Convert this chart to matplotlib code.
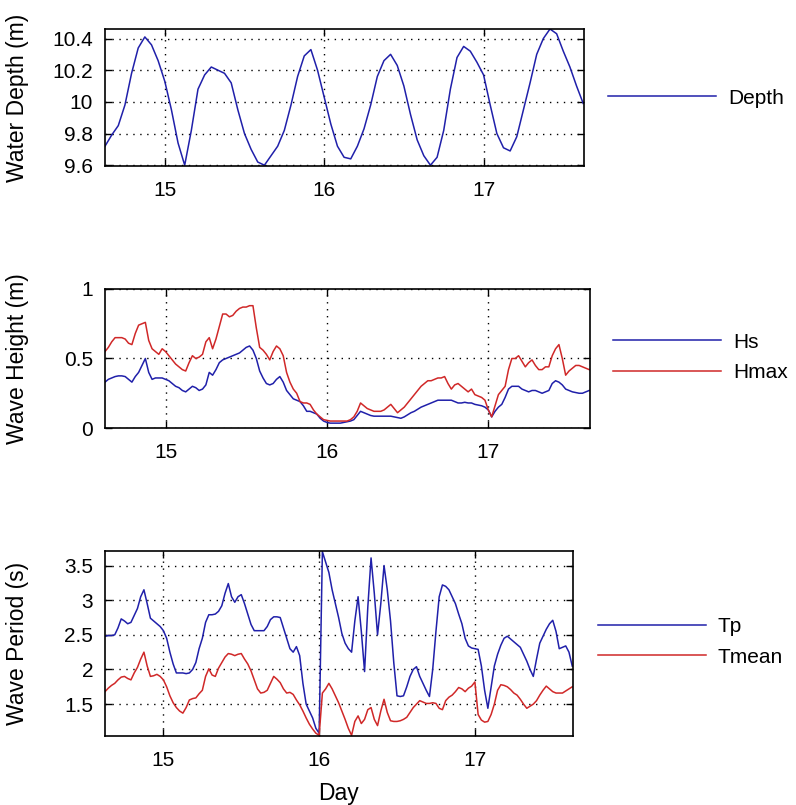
import numpy as np
import matplotlib
matplotlib.use('Agg')
import matplotlib.pyplot as plt

plt.rcParams['font.family'] = ['Liberation Sans', 'DejaVu Sans']
plt.rcParams['font.size'] = 15

# time axes (day of month)
t_depth = 14.625 + np.arange(73) / 24.0
t_wave = 14.625 + np.arange(145) / 48.0

depth = [9.72, 9.79, 9.85, 9.98, 10.18, 10.34, 10.41, 10.36, 10.26, 10.13,
         9.95, 9.74, 9.60, 9.82, 10.08, 10.17, 10.22, 10.20, 10.18, 10.12,
         9.95, 9.80, 9.70, 9.62, 9.60, 9.66, 9.72, 9.82, 9.98, 10.16,
         10.29, 10.33, 10.20, 10.03, 9.86, 9.72, 9.65, 9.64, 9.72, 9.83,
         9.98, 10.16, 10.26, 10.30, 10.23, 10.10, 9.92, 9.76, 9.66, 9.60,
         9.65, 9.82, 10.08, 10.28, 10.35, 10.32, 10.25, 10.17, 9.98, 9.80,
         9.71, 9.69, 9.78, 9.95, 10.12, 10.30, 10.40, 10.46, 10.43, 10.32,
         10.22, 10.10, 9.99]

hs = [0.33, 0.35, 0.36, 0.37, 0.375, 0.375, 0.37, 0.35, 0.33, 0.37,
      0.40, 0.45, 0.50, 0.40, 0.35, 0.36, 0.36, 0.36, 0.35, 0.34,
      0.32, 0.30, 0.29, 0.27, 0.26, 0.28, 0.30, 0.29, 0.27, 0.28,
      0.31, 0.40, 0.38, 0.42, 0.47, 0.49, 0.50, 0.51, 0.52, 0.53,
      0.54, 0.56, 0.58, 0.59, 0.56, 0.50, 0.41, 0.36, 0.32, 0.31,
      0.32, 0.35, 0.37, 0.33, 0.27, 0.24, 0.21, 0.20, 0.19, 0.16,
      0.12, 0.12, 0.11, 0.10, 0.07, 0.05, 0.04, 0.035, 0.035, 0.035,
      0.035, 0.04, 0.045, 0.05, 0.06, 0.09, 0.12, 0.11, 0.10, 0.09,
      0.085, 0.085, 0.085, 0.085, 0.085, 0.085, 0.08, 0.075, 0.07, 0.08,
      0.095, 0.11, 0.12, 0.135, 0.15, 0.16, 0.17, 0.18, 0.19, 0.20,
      0.20, 0.20, 0.20, 0.20, 0.19, 0.18, 0.18, 0.185, 0.18, 0.18,
      0.17, 0.165, 0.16, 0.15, 0.13, 0.08, 0.12, 0.15, 0.17, 0.22,
      0.28, 0.30, 0.30, 0.30, 0.28, 0.27, 0.26, 0.27, 0.27, 0.26,
      0.25, 0.26, 0.27, 0.32, 0.34, 0.33, 0.31, 0.28, 0.27, 0.26,
      0.255, 0.25, 0.25, 0.26, 0.27]

hmax = [0.55, 0.58, 0.62, 0.65, 0.65, 0.65, 0.64, 0.61, 0.60, 0.68,
        0.74, 0.75, 0.76, 0.63, 0.57, 0.55, 0.53, 0.57, 0.55, 0.52,
        0.49, 0.46, 0.44, 0.42, 0.41, 0.47, 0.52, 0.50, 0.51, 0.53,
        0.62, 0.65, 0.57, 0.64, 0.73, 0.82, 0.82, 0.80, 0.81, 0.84,
        0.86, 0.87, 0.87, 0.88, 0.88, 0.72, 0.58, 0.56, 0.53, 0.49,
        0.55, 0.59, 0.57, 0.52, 0.40, 0.33, 0.28, 0.25, 0.19, 0.18,
        0.18, 0.17, 0.13, 0.10, 0.08, 0.06, 0.055, 0.05, 0.05, 0.05,
        0.05, 0.05, 0.05, 0.06, 0.08, 0.12, 0.18, 0.16, 0.14, 0.13,
        0.12, 0.12, 0.12, 0.13, 0.15, 0.17, 0.14, 0.11, 0.13, 0.15,
        0.18, 0.21, 0.24, 0.27, 0.30, 0.32, 0.34, 0.34, 0.35, 0.36,
        0.36, 0.37, 0.32, 0.28, 0.31, 0.32, 0.30, 0.28, 0.26, 0.28,
        0.24, 0.23, 0.22, 0.20, 0.13, 0.08, 0.16, 0.24, 0.27, 0.30,
        0.42, 0.50, 0.50, 0.52, 0.48, 0.44, 0.47, 0.49, 0.45, 0.42,
        0.42, 0.44, 0.44, 0.52, 0.57, 0.60, 0.50, 0.38, 0.41, 0.43,
        0.45, 0.45, 0.44, 0.43, 0.42]

tp = [2.48, 2.49, 2.49, 2.50, 2.60, 2.73, 2.70, 2.66, 2.68, 2.78,
      2.88, 3.05, 3.15, 2.95, 2.74, 2.70, 2.66, 2.62, 2.56, 2.45,
      2.25, 2.08, 1.95, 1.95, 1.95, 1.94, 1.95, 2.00, 2.10, 2.30,
      2.45, 2.68, 2.79, 2.79, 2.80, 2.84, 2.92, 3.10, 3.24, 3.05,
      2.97, 3.05, 3.08, 2.95, 2.80, 2.65, 2.56, 2.56, 2.56, 2.56,
      2.62, 2.72, 2.76, 2.76, 2.75, 2.60, 2.45, 2.30, 2.25, 2.33,
      2.20, 1.80, 1.50, 1.40, 1.30, 1.15, 1.08, 3.70, 3.55, 3.40,
      3.15, 2.95, 2.75, 2.52, 2.38, 2.30, 2.25, 2.70, 3.05, 2.55,
      1.97, 2.90, 3.61, 3.10, 2.50, 2.95, 3.50, 3.15, 2.70, 2.10,
      1.62, 1.61, 1.62, 1.75, 1.90, 2.00, 2.04, 1.90, 1.80, 1.70,
      1.61, 2.00, 2.55, 3.05, 3.22, 3.20, 3.15, 3.05, 2.95, 2.80,
      2.66, 2.45, 2.34, 2.31, 2.30, 2.29, 2.05, 1.70, 1.44, 1.75,
      2.05, 2.22, 2.35, 2.45, 2.48, 2.44, 2.40, 2.36, 2.32, 2.22,
      2.12, 2.00, 1.90, 2.15, 2.38, 2.48, 2.58, 2.66, 2.71, 2.55,
      2.30, 2.32, 2.34, 2.25, 2.05]

tmean = [1.68, 1.73, 1.77, 1.80, 1.85, 1.89, 1.90, 1.87, 1.85, 1.95,
         2.03, 2.15, 2.25, 2.05, 1.90, 1.91, 1.93, 1.90, 1.85, 1.75,
         1.62, 1.52, 1.45, 1.40, 1.37, 1.45, 1.56, 1.58, 1.59, 1.65,
         1.70, 1.90, 2.01, 1.92, 1.90, 2.02, 2.10, 2.18, 2.23, 2.22,
         2.20, 2.22, 2.23, 2.15, 2.08, 1.98, 1.85, 1.72, 1.66, 1.67,
         1.70, 1.80, 1.90, 1.86, 1.81, 1.72, 1.66, 1.67, 1.64, 1.56,
         1.49, 1.40, 1.30, 1.21, 1.14, 1.08, 1.05, 1.66, 1.72, 1.80,
         1.72, 1.62, 1.52, 1.40, 1.28, 1.15, 1.05, 1.25, 1.33, 1.22,
         1.28, 1.42, 1.45, 1.28, 1.19, 1.40, 1.57, 1.38, 1.26, 1.25,
         1.25, 1.26, 1.28, 1.31, 1.38, 1.45, 1.50, 1.55, 1.53, 1.51,
         1.51, 1.52, 1.51, 1.44, 1.42, 1.55, 1.60, 1.63, 1.68, 1.74,
         1.72, 1.68, 1.73, 1.76, 1.82, 1.35, 1.27, 1.24, 1.25, 1.35,
         1.50, 1.70, 1.78, 1.77, 1.75, 1.71, 1.66, 1.63, 1.57, 1.50,
         1.44, 1.47, 1.50, 1.55, 1.63, 1.70, 1.76, 1.72, 1.68, 1.66,
         1.66, 1.66, 1.69, 1.72, 1.75]

day_ticks = [15, 16, 17]
blue = '#2020aa'
red = '#d02828'

fig = plt.figure(figsize=(7.96, 8.05), dpi=100)

# axes boxes in pixels of the 796x805 picture: left, top, right, bottom
boxes = [(105, 29, 584, 166), (105, 289, 590, 428), (105, 551, 573, 736)]
axes = []
for l, t, r, b in boxes:
    axes.append(fig.add_axes([l / 796, 1 - b / 805, (r - l) / 796, (b - t) / 805]))
ax1, ax2, ax3 = axes


def style_axis(ax, box):
    ax.set_xlim(14.625, 17.63)
    ax.set_xticks(day_ticks)
    ax.set_xticklabels([str(d) for d in day_ticks])
    ax.grid(True, color='black', linestyle=(0, (1, 4)), linewidth=1.0)
    ax.tick_params(direction='in', top=True, right=True, length=5, width=1)
    ax.tick_params(axis='x', pad=11)
    ax.tick_params(axis='y', pad=8.5)
    for s in ax.spines.values():
        s.set_linewidth(1.2)
    l, t, r, b = box
    ax.yaxis.set_label_coords((18 - l) / (r - l), 0.5)
    ax.yaxis.label.set_va('center')
    ax.yaxis.label.set_fontsize(16.5)


ax1.plot(t_depth, depth, color=blue, linewidth=1.1, label='Depth')
ax1.set_ylabel('Water Depth (m)')
style_axis(ax1, boxes[0])
ax1.set_ylim(9.595, 10.46)
ax1.set_yticks([9.6, 9.8, 10.0, 10.2, 10.4])
ax1.set_yticklabels(['9.6', '9.8', '10', '10.2', '10.4'])

ax2.plot(t_wave, hs, color=blue, linewidth=1.1, label='Hs')
ax2.plot(t_wave, hmax, color=red, linewidth=1.1, label='Hmax')
ax2.set_ylabel('Wave Height (m)')
style_axis(ax2, boxes[1])
ax2.set_ylim(0, 1)
ax2.set_yticks([0, 0.5, 1])
ax2.set_yticklabels(['0', '0.5', '1'])

ax3.plot(t_wave, tp, color=blue, linewidth=1.1, label='Tp')
ax3.plot(t_wave, tmean, color=red, linewidth=1.1, label='Tmean')
ax3.set_ylabel('Wave Period (s)')
style_axis(ax3, boxes[2])
ax3.set_ylim(1.04, 3.71)
ax3.set_yticks([1.5, 2, 2.5, 3, 3.5])
ax3.set_yticklabels(['1.5', '2', '2.5', '3', '3.5'])
ax3.set_xlabel('Day', fontsize=16.5)
ax3.xaxis.set_label_coords(0.5, -(793 - 736) / (736 - 551))
ax3.xaxis.label.set_va('center')

leg_kw = dict(loc='center left', frameon=False, borderpad=0, borderaxespad=0,
              handlelength=5.2, handletextpad=0.55, labelspacing=0.55,
              bbox_transform=fig.transFigure)
ax1.legend(bbox_to_anchor=(608 / 796, 1 - 98 / 805), **leg_kw)
ax2.legend(bbox_to_anchor=(613 / 796, 1 - 357.5 / 805), **leg_kw)
ax3.legend(bbox_to_anchor=(598 / 796, 1 - 642 / 805), **leg_kw)

fig.savefig('out.png', dpi=100)
